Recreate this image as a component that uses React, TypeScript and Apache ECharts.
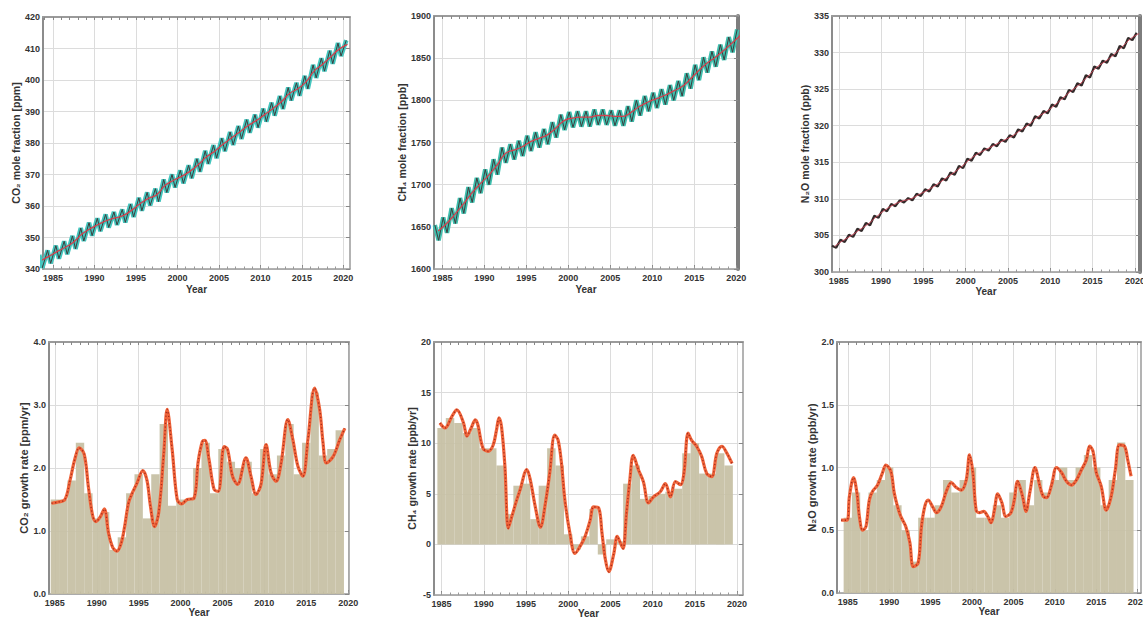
import React, { useEffect, useRef } from "react";
import * as echarts from "echarts";

const FONT = "'Liberation Sans', Arial, sans-serif";

// ---------- DATA ----------
const LABEL_YEARS = [1985, 1990, 1995, 2000, 2005, 2010, 2015, 2020];
const MINOR_YEARS = [1984, 1985, 1986, 1987, 1988, 1989, 1990, 1991, 1992, 1993, 1994, 1995, 1996, 1997, 1998, 1999, 2000, 2001, 2002, 2003, 2004, 2005, 2006, 2007, 2008, 2009, 2010, 2011, 2012, 2013, 2014, 2015, 2016, 2017, 2018, 2019, 2020];

// CO2 mole fraction (ppm), 1983..2020
const co2Years = [1983, 1984, 1985, 1986, 1987, 1988, 1989, 1990, 1991, 1992, 1993, 1994, 1995, 1996, 1997, 1998, 1999, 2000, 2001, 2002, 2003, 2004, 2005, 2006, 2007, 2008, 2009, 2010, 2011, 2012, 2013, 2014, 2015, 2016, 2017, 2018, 2019, 2020];
const co2Trend = [342.6, 344.0, 345.5, 346.9, 348.6, 351.1, 352.8, 354.2, 355.4, 356.2, 357.0, 358.7, 360.7, 362.4, 363.6, 366.5, 368.1, 369.4, 371.0, 373.1, 375.6, 377.4, 379.6, 381.6, 383.5, 385.5, 387.1, 389.0, 390.9, 393.0, 395.7, 397.2, 399.4, 402.9, 405.0, 407.4, 409.8, 411.3];
const co2High = [344.5, 345.9, 347.4, 348.8, 350.5, 353.0, 354.7, 356.1, 357.3, 358.1, 358.9, 360.6, 362.6, 364.3, 365.5, 368.4, 370.0, 371.3, 372.9, 375.0, 377.5, 379.3, 381.5, 383.5, 385.4, 387.4, 389.0, 390.9, 392.8, 394.9, 397.6, 399.1, 401.3, 404.8, 406.9, 409.3, 411.7, 412.6];
const co2Low = [340.4, 341.8, 343.3, 344.7, 346.4, 348.9, 350.6, 352.0, 353.2, 354.0, 354.8, 356.5, 358.5, 360.2, 361.4, 364.3, 365.9, 367.2, 368.8, 370.9, 373.4, 375.2, 377.4, 379.4, 381.3, 383.3, 384.9, 386.8, 388.7, 390.8, 393.5, 395.0, 397.2, 400.7, 402.8, 405.2, 407.6, null];

// CH4 mole fraction (ppb), 1984..2020
const ch4Years = [1984, 1985, 1986, 1987, 1988, 1989, 1990, 1991, 1992, 1993, 1994, 1995, 1996, 1997, 1998, 1999, 2000, 2001, 2002, 2003, 2004, 2005, 2006, 2007, 2008, 2009, 2010, 2011, 2012, 2013, 2014, 2015, 2016, 2017, 2018, 2019, 2020];
const ch4Trend = [1645, 1654, 1665, 1677, 1690, 1701, 1711, 1723, 1737, 1741, 1745, 1751, 1755, 1759, 1767, 1776, 1779, 1780, 1780, 1782, 1782, 1781, 1781, 1786, 1793, 1798, 1802, 1806, 1811, 1816, 1825, 1835, 1844, 1851, 1859, 1868, 1877];
const ch4High = [1652, 1661, 1672, 1684, 1697, 1708, 1718, 1730, 1744, 1748, 1752, 1758, 1762, 1766, 1774, 1783, 1786, 1787, 1787, 1789, 1789, 1788, 1788, 1793, 1800, 1805, 1809, 1813, 1818, 1823, 1832, 1842, 1851, 1858, 1866, 1875, 1884];
const ch4Low = [1634, 1643, 1654, 1666, 1679, 1690, 1700, 1712, 1726, 1730, 1734, 1740, 1744, 1748, 1756, 1765, 1768, 1769, 1769, 1771, 1771, 1770, 1770, 1775, 1782, 1787, 1791, 1795, 1800, 1805, 1814, 1824, 1833, 1840, 1848, 1857, null];

// N2O mole fraction (ppb), 1984..2020
const n2oYears = [1984, 1985, 1986, 1987, 1988, 1989, 1990, 1991, 1992, 1993, 1994, 1995, 1996, 1997, 1998, 1999, 2000, 2001, 2002, 2003, 2004, 2005, 2006, 2007, 2008, 2009, 2010, 2011, 2012, 2013, 2014, 2015, 2016, 2017, 2018, 2019, 2020];
const n2oTrend = [303.5, 304.3, 305.0, 305.8, 306.6, 307.6, 308.5, 309.2, 309.7, 310.0, 310.6, 311.2, 311.9, 312.7, 313.5, 314.4, 315.4, 316.2, 316.8, 317.4, 318.0, 318.6, 319.4, 320.2, 321.2, 321.9, 322.8, 323.8, 324.8, 325.7, 326.8, 328.0, 328.8, 329.7, 330.8, 331.9, 332.6];
const n2oHigh = [303.6, 304.4, 305.1, 305.9, 306.7, 307.7, 308.6, 309.3, 309.8, 310.1, 310.7, 311.3, 312.0, 312.8, 313.6, 314.5, 315.5, 316.3, 316.9, 317.5, 318.1, 318.7, 319.5, 320.3, 321.3, 322.0, 322.9, 323.9, 324.9, 325.8, 326.9, 328.1, 328.9, 329.8, 330.9, 332.0, 332.7];
const n2oLow = [303.3, 304.1, 304.8, 305.6, 306.4, 307.4, 308.3, 309.0, 309.5, 309.8, 310.4, 311.0, 311.7, 312.5, 313.3, 314.2, 315.2, 316.0, 316.6, 317.2, 317.8, 318.4, 319.2, 320.0, 321.0, 321.7, 322.6, 323.6, 324.6, 325.5, 326.6, 327.8, 328.6, 329.5, 330.6, 331.7, null];

// Annual growth rates (bars), 1985..2019
const rateYears = [1985, 1986, 1987, 1988, 1989, 1990, 1991, 1992, 1993, 1994, 1995, 1996, 1997, 1998, 1999, 2000, 2001, 2002, 2003, 2004, 2005, 2006, 2007, 2008, 2009, 2010, 2011, 2012, 2013, 2014, 2015, 2016, 2017, 2018, 2019];
const co2Annual = [1.5, 1.5, 1.8, 2.4, 1.6, 1.2, 1.3, 0.7, 0.9, 1.6, 1.9, 1.2, 1.9, 2.7, 1.4, 1.5, 1.5, 2.0, 2.4, 1.6, 2.3, 2.1, 2.0, 2.1, 1.6, 2.3, 1.9, 2.2, 2.7, 1.9, 2.4, 3.2, 2.2, 2.3, 2.6];
const ch4Annual = [11.5, 12.5, 12.0, 11.0, 11.5, 9.5, 9.5, 7.8, 3.0, 5.8, 6.0, 2.5, 5.8, 9.5, 7.8, 1.0, -0.5, 0.8, 3.5, -1.0, 0.5, 0.3, 6.0, 7.8, 4.5, 4.8, 5.0, 5.2, 5.5, 9.0, 10.0, 7.0, 7.0, 9.0, 7.8];
const n2oAnnual = [0.6, 0.8, 0.5, 0.8, 0.9, 1.0, 0.7, 0.5, 0.25, 0.6, 0.6, 0.7, 0.9, 0.8, 0.9, 1.0, 0.6, 0.6, 0.7, 0.6, 0.8, 0.9, 0.7, 0.9, 0.8, 0.9, 1.0, 0.9, 1.0, 1.1, 1.0, 0.7, 0.9, 1.2, 0.9];

// Smoothed growth-rate curves [decimal year, rate]
const co2Curve = [[1984.6, 1.44], [1985.4, 1.46], [1986.2, 1.5], [1986.8, 1.8], [1987.4, 2.15], [1987.9, 2.32], [1988.5, 2.22], [1989.0, 1.7], [1989.5, 1.25], [1989.9, 1.15], [1990.4, 1.22], [1990.9, 1.35], [1991.4, 0.97], [1991.9, 0.74], [1992.4, 0.68], [1992.9, 0.8], [1993.3, 1.05], [1993.8, 1.45], [1994.3, 1.62], [1994.8, 1.76], [1995.5, 1.96], [1996.0, 1.8], [1996.4, 1.4], [1996.9, 1.07], [1997.4, 1.3], [1998.0, 2.24], [1998.4, 2.93], [1999.0, 2.29], [1999.6, 1.5], [2000.1, 1.43], [2000.8, 1.5], [2001.6, 1.52], [2002.1, 2.1], [2002.6, 2.42], [2002.9, 2.44], [2003.4, 2.13], [2004.0, 1.66], [2004.5, 1.63], [2005.2, 2.34], [2005.6, 2.3], [2006.2, 1.87], [2006.8, 1.74], [2007.8, 2.16], [2008.4, 1.87], [2009.0, 1.58], [2009.6, 1.74], [2010.2, 2.37], [2010.8, 1.92], [2011.4, 1.79], [2012.0, 2.08], [2012.8, 2.77], [2013.4, 2.45], [2014.0, 2.03], [2014.6, 1.87], [2015.2, 2.45], [2016.0, 3.27], [2016.6, 2.93], [2017.0, 2.4], [2017.4, 2.08], [2018.2, 2.18], [2019.0, 2.45], [2019.6, 2.63]];
const ch4Curve = [[1984.8, 12.0], [1985.4, 11.5], [1986.2, 12.6], [1986.8, 13.3], [1987.6, 12.0], [1988.0, 10.7], [1988.5, 11.5], [1989.0, 12.3], [1989.3, 11.8], [1989.9, 9.5], [1990.5, 9.2], [1991.1, 9.8], [1991.5, 11.3], [1991.8, 12.5], [1992.1, 11.6], [1992.5, 7.7], [1992.9, 1.6], [1993.3, 2.7], [1993.9, 4.4], [1994.3, 5.4], [1995.1, 7.4], [1995.5, 6.4], [1996.1, 3.7], [1996.7, 1.7], [1997.3, 4.1], [1997.8, 7.0], [1998.4, 10.8], [1998.8, 10.3], [1999.2, 8.0], [1999.6, 4.4], [2000.2, 1.1], [2000.8, -0.9], [2001.4, -0.2], [2002.0, 0.8], [2002.6, 2.4], [2003.0, 3.7], [2003.6, 3.6], [2004.0, 1.1], [2004.4, -1.5], [2004.8, -2.7], [2005.4, -0.9], [2005.8, 0.8], [2006.2, 0.1], [2006.5, -0.4], [2006.9, 3.1], [2007.3, 6.4], [2007.7, 8.8], [2008.3, 7.4], [2008.9, 6.2], [2009.5, 4.1], [2010.1, 4.7], [2010.9, 5.2], [2011.5, 6.0], [2012.1, 4.7], [2012.7, 6.2], [2013.3, 5.9], [2013.7, 7.0], [2014.2, 11.0], [2014.6, 10.3], [2015.2, 9.7], [2015.8, 8.7], [2016.4, 7.0], [2017.0, 6.7], [2017.6, 9.0], [2018.2, 9.7], [2018.8, 9.0], [2019.4, 8.0]];
const n2oCurve = [[1984.2, 0.58], [1984.9, 0.58], [1985.2, 0.77], [1985.7, 0.92], [1986.1, 0.8], [1986.4, 0.61], [1986.8, 0.5], [1987.2, 0.53], [1987.6, 0.74], [1988.0, 0.81], [1988.6, 0.86], [1989.2, 0.96], [1989.6, 1.02], [1990.2, 0.97], [1990.6, 0.8], [1991.0, 0.69], [1991.4, 0.61], [1992.0, 0.53], [1992.5, 0.4], [1992.9, 0.21], [1993.5, 0.24], [1993.9, 0.53], [1994.3, 0.69], [1994.7, 0.74], [1995.3, 0.68], [1995.7, 0.64], [1996.3, 0.69], [1996.9, 0.81], [1997.5, 0.88], [1998.1, 0.84], [1998.7, 0.82], [1999.3, 0.9], [1999.7, 1.1], [2000.1, 0.96], [2000.5, 0.66], [2000.9, 0.64], [2001.4, 0.65], [2001.9, 0.61], [2002.3, 0.56], [2002.7, 0.66], [2003.1, 0.79], [2003.6, 0.72], [2004.1, 0.61], [2004.7, 0.64], [2005.1, 0.74], [2005.5, 0.89], [2006.1, 0.77], [2006.5, 0.65], [2007.0, 0.81], [2007.6, 1.0], [2008.2, 0.85], [2008.6, 0.77], [2009.0, 0.76], [2009.6, 0.86], [2010.2, 1.0], [2010.8, 0.96], [2011.4, 0.89], [2012.0, 0.86], [2012.6, 0.9], [2013.2, 0.98], [2013.8, 1.06], [2014.2, 1.17], [2014.6, 1.13], [2015.0, 0.96], [2015.6, 0.85], [2016.2, 0.66], [2016.8, 0.77], [2017.3, 0.98], [2017.8, 1.18], [2018.4, 1.17], [2018.8, 1.06], [2019.2, 0.93]];

// ---------- LAYOUT / STYLE ----------
const FRAME = "#9a9a9a";
const GRIDLINE = "#dcdcdc";
const TAN = "#c6bfa4";
const ORANGE = "#f0643a";
const DOTS = "#a82e1c";
const TICK_TEXT = "#333333";

const panels = [
  { grid: { left: 43, top: 17, width: 307, height: 252 }, xMin: 1983.8, xMax: 2020.8, yMin: 340, yMax: 420, yInt: 10, dec: 0, yName: "CO₂ mole fraction [ppm]", yNameGap: 22, yNameSize: 10.5, xNameGap: 15, rightColor: FRAME, rightWidth: 1.5 },
  { grid: { left: 434, top: 16, width: 304, height: 253 }, xMin: 1984.0, xMax: 2020.2, yMin: 1600, yMax: 1900, yInt: 50, dec: 0, yName: "CH₄ mole fraction [ppb]", yNameGap: 20, yNameSize: 10.5, xNameGap: 15, rightColor: "#7d7d7d", rightWidth: 4 },
  { grid: { left: 832, top: 16, width: 308, height: 256 }, xMin: 1984.2, xMax: 2020.6, yMin: 300, yMax: 335, yInt: 5, dec: 0, yName: "N₂O mole fraction (ppb)", yNameGap: 22, yNameSize: 10.5, xNameGap: 14, rightColor: "#7d7d7d", rightWidth: 4 },
  { grid: { left: 49, top: 342, width: 300, height: 252 }, xMin: 1984.3, xMax: 2020.1, yMin: 0, yMax: 4, yInt: 1, dec: 1, yName: "CO₂ growth rate [ppm/yr]", yNameGap: 19, yNameSize: 11, xNameGap: 13, rightColor: FRAME, rightWidth: 1.5 },
  { grid: { left: 434, top: 342, width: 309, height: 253 }, xMin: 1984.1, xMax: 2020.7, yMin: -5, yMax: 20, yInt: 5, dec: 0, yName: "CH₄ growth rate [ppb/yr]", yNameGap: 15, yNameSize: 10.5, xNameGap: 13, rightColor: FRAME, rightWidth: 1.5 },
  { grid: { left: 837, top: 342, width: 304, height: 251 }, xMin: 1983.7, xMax: 2020.4, yMin: 0, yMax: 2, yInt: 0.5, dec: 1, yName: "N₂O growth rate (ppb/yr)", yNameGap: 16, yNameSize: 11, xNameGap: 13, rightColor: FRAME, rightWidth: 1.5 },
];

function zig(years: number[], hi: (number | null)[], lo: (number | null)[], tHi: number, tLo: number) {
  const out: number[][] = [];
  years.forEach((y, i) => {
    if (hi[i] != null) out.push([y + tHi, hi[i] as number]);
    if (lo[i] != null) out.push([y + tLo, lo[i] as number]);
  });
  return out;
}

function annual(years: number[], vals: number[], offset: number) {
  return years.map((y, i) => [y + offset, vals[i]]);
}

function barRender(params: any, api: any) {
  const x = api.value(0);
  const v = api.value(1);
  const p0 = api.coord([x - 0.5, 0]);
  const p1 = api.coord([x + 0.5, v]);
  return {
    type: "rect",
    shape: { x: p0[0], y: Math.min(p0[1], p1[1]), width: p1[0] - p0[0], height: Math.abs(p1[1] - p0[1]) },
    style: { fill: TAN, opacity: 0.93 },
  };
}

function buildOption() {
  const grid: any[] = [];
  const xAxis: any[] = [];
  const yAxis: any[] = [];
  const series: any[] = [];

  panels.forEach((p, i) => {
    grid.push({ ...p.grid, outerBoundsMode: "none", containLabel: false });
    xAxis.push({
      gridIndex: i, type: "value", position: "bottom", min: p.xMin, max: p.xMax,
      name: "Year", nameLocation: "middle", nameGap: p.xNameGap,
      nameTextStyle: { fontFamily: FONT, fontSize: 10, fontWeight: "bold", color: "#333" },
      axisLine: { show: true, onZero: false, lineStyle: { color: FRAME, width: 1.5 } },
      axisTick: { show: true, inside: true, length: 4, customValues: LABEL_YEARS, lineStyle: { color: "#888" } },
      axisLabel: { show: true, customValues: LABEL_YEARS, fontFamily: FONT, fontSize: 9, fontWeight: "bold", color: TICK_TEXT, margin: 4, formatter: (v: number) => String(Math.round(v)) },
      splitLine: { show: true, lineStyle: { color: GRIDLINE, width: 1 } },
    });
    xAxis.push({
      gridIndex: i, type: "value", position: "top", min: p.xMin, max: p.xMax,
      axisLine: { show: true, onZero: false, lineStyle: { color: FRAME, width: 2 } },
      axisTick: { show: true, inside: true, length: 3, customValues: MINOR_YEARS, lineStyle: { color: "#888" } },
      axisLabel: { show: false },
      splitLine: { show: false },
    });
    xAxis.push({
      gridIndex: i, type: "value", position: "bottom", min: p.xMin, max: p.xMax,
      axisLine: { show: false, onZero: false },
      axisTick: { show: true, inside: true, length: 2.5, customValues: MINOR_YEARS, lineStyle: { color: "#999" } },
      axisLabel: { show: false },
      splitLine: { show: false },
    });
    yAxis.push({
      gridIndex: i, type: "value", position: "left", min: p.yMin, max: p.yMax, interval: p.yInt,
      name: p.yName, nameLocation: "middle", nameGap: p.yNameGap,
      nameTextStyle: { fontFamily: FONT, fontSize: p.yNameSize, fontWeight: "bold", color: "#333" },
      axisLine: { show: true, onZero: false, lineStyle: { color: "#8c8c8c", width: 2 } },
      axisTick: { show: false },
      axisLabel: { fontFamily: FONT, fontSize: 9, fontWeight: "bold", color: TICK_TEXT, margin: 3, formatter: (v: number) => v.toFixed(p.dec) },
      splitLine: { show: true, lineStyle: { color: GRIDLINE, width: 1 } },
    });
    yAxis.push({
      gridIndex: i, type: "value", position: "right", min: p.yMin, max: p.yMax, interval: p.yInt,
      axisLine: { show: true, onZero: false, lineStyle: { color: p.rightColor, width: p.rightWidth } },
      axisTick: { show: true, inside: true, length: 4, lineStyle: { color: "#888" } },
      axisLabel: { show: false },
      splitLine: { show: false },
    });
  });

  const ax = (i: number) => ({ xAxisIndex: i * 3, yAxisIndex: i * 2 });
  const line = (i: number, data: any, lineStyle: any, extra: any = {}) => ({
    type: "line", ...ax(i), data, showSymbol: false, symbol: "none", silent: true, clip: true, lineStyle, ...extra,
  });

  // Panel 1: CO2
  const co2Zig = zig(co2Years, co2High, co2Low, 0.35, 0.72);
  series.push(line(0, co2Zig, { color: "#44c6be", width: 4.5 }, { z: 2 }));
  series.push(line(0, co2Zig, { color: "#3d3d3d", width: 1 }, { z: 3 }));
  series.push(line(0, annual(co2Years, co2Trend, 0.5), { color: "#d6404e", width: 1.3 }, { z: 4, smooth: true }));

  // Panel 2: CH4
  const ch4Zig = zig(ch4Years, ch4High, ch4Low, 0.1, 0.55);
  series.push(line(1, ch4Zig, { color: "#3fbfae", width: 4.5 }, { z: 2 }));
  series.push(line(1, ch4Zig, { color: "#3d3d3d", width: 1 }, { z: 3 }));
  series.push(line(1, annual(ch4Years, ch4Trend, 0.5), { color: "#d6404e", width: 1.3 }, { z: 4, smooth: true }));

  // Panel 3: N2O
  const n2oZig = zig(n2oYears, n2oHigh, n2oLow, 0.2, 0.7);
  series.push(line(2, n2oZig, { color: "#332a2a", width: 2.2 }, { z: 2 }));
  series.push(line(2, annual(n2oYears, n2oTrend, 0.5), { color: "#d0485a", width: 0.9 }, { z: 3, smooth: true }));

  // Growth panels
  const growth = [
    { i: 3, bars: co2Annual, curve: co2Curve },
    { i: 4, bars: ch4Annual, curve: ch4Curve },
    { i: 5, bars: n2oAnnual, curve: n2oCurve },
  ];
  growth.forEach((g) => {
    series.push({
      type: "custom", ...ax(g.i), renderItem: barRender, clip: true, silent: true, z: 1,
      encode: { x: 0, y: 1 },
      data: rateYears.map((y, k) => [y, g.bars[k]]),
    });
    series.push(line(g.i, g.curve, { color: ORANGE, width: 3.2 }, { z: 3, smooth: 0.35 }));
    series.push(line(g.i, g.curve, { color: DOTS, width: 1.4, type: [1.2, 2.4] }, { z: 4, smooth: 0.35 }));
  });

  return { animation: false, backgroundColor: "#ffffff", grid, xAxis, yAxis, series };
}

export default function App() {
  const ref = useRef<HTMLDivElement>(null);
  useEffect(() => {
    if (!ref.current) return;
    const chart = echarts.init(ref.current, null, { renderer: "svg" });
    chart.setOption(buildOption() as any);
    return () => chart.dispose();
  }, []);
  return (
    <div
      ref={ref}
      style={{ position: "fixed", left: 0, top: 0, width: 1143, height: 618, background: "#fff" }}
    />
  );
}
